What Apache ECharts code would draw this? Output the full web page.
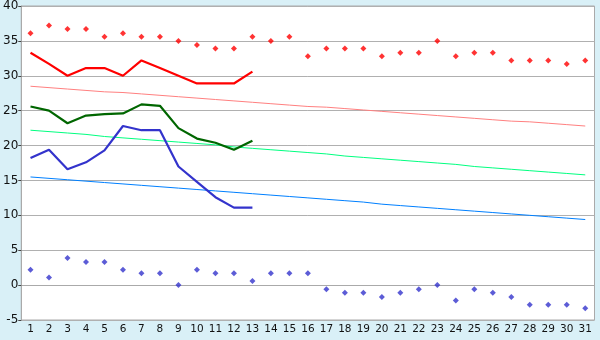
<!DOCTYPE html>
<html>
<head>
<meta charset="utf-8">
<script src="https://cdn.jsdelivr.net/npm/echarts@6/dist/echarts.min.js"></script>
<style>
html,body{margin:0;padding:0;background:#d9f0f7;}
#c{width:600px;height:340px;}
</style>
</head>
<body>
<div id="c"></div>
<script>
var days = ['1','2','3','4','5','6','7','8','9','10','11','12','13','14','15','16','17','18','19','20','21','22','23','24','25','26','27','28','29','30','31'];
var yTicks = {min: -5, max: 40, interval: 5};

var recordMax = [36.1,37.2,36.7,36.7,35.6,36.1,35.6,35.6,35.0,34.4,33.9,33.9,35.6,35.0,35.6,32.8,33.9,33.9,33.9,32.8,33.3,33.3,35.0,32.8,33.3,33.3,32.2,32.2,32.2,31.7,32.2];
var recordMin = [2.2,1.1,3.9,3.3,3.3,2.2,1.7,1.7,0.0,2.2,1.7,1.7,0.6,1.7,1.7,1.7,-0.6,-1.1,-1.1,-1.7,-1.1,-0.6,0.0,-2.2,-0.6,-1.1,-1.7,-2.8,-2.8,-2.8,-3.3];
var actualMax = [33.3,31.7,30.0,31.1,31.1,30.0,32.2,31.1,30.0,28.9,28.9,28.9,30.6];
var actualMean = [25.6,25.0,23.2,24.3,24.5,24.6,25.9,25.7,22.5,21.0,20.4,19.4,20.7];
var actualMin = [18.2,19.4,16.6,17.6,19.3,22.8,22.2,22.2,17.0,14.8,12.6,11.1,11.1];
var normalMax = [28.5,28.3,28.1,27.9,27.7,27.6,27.4,27.2,27.0,26.8,26.6,26.4,26.2,26.0,25.8,25.6,25.5,25.3,25.1,24.9,24.7,24.5,24.3,24.1,23.9,23.7,23.5,23.4,23.2,23.0,22.8];
var normalMean = [22.2,22.0,21.8,21.6,21.3,21.1,20.9,20.7,20.5,20.3,20.1,19.8,19.6,19.4,19.2,19.0,18.8,18.5,18.3,18.1,17.9,17.7,17.5,17.3,17.0,16.8,16.6,16.4,16.2,16.0,15.8];
var normalMin = [15.5,15.3,15.1,14.9,14.7,14.5,14.3,14.1,13.9,13.7,13.5,13.3,13.1,12.9,12.7,12.5,12.3,12.1,11.9,11.6,11.4,11.2,11.0,10.8,10.6,10.4,10.2,10.0,9.8,9.6,9.4];

function line(data, color, width) {
  return {type: 'line', data: data, symbol: 'none', silent: true, animation: false,
    lineStyle: {color: color, width: width}, itemStyle: {color: color}};
}
function dots(data, color) {
  return {type: 'scatter', data: data, symbol: 'diamond', symbolSize: 6, silent: true, animation: false,
    itemStyle: {color: color}};
}

var chart = echarts.init(document.getElementById('c'), null, {renderer: 'canvas'});
chart.setOption({
  backgroundColor: '#d9f0f7',
  animation: false,
  grid: {left: 20, right: 5.5, top: 5, bottom: 20, show: true, backgroundColor: '#ffffff', borderColor: '#aaaaaa', borderWidth: 1},
  xAxis: {
    type: 'category', data: days, boundaryGap: true,
    axisLine: {lineStyle: {color: '#aaaaaa'}},
    axisTick: {alignWithLabel: true, length: 5, lineStyle: {color: '#444444'}},
    axisLabel: {color: '#111111', fontFamily: 'DejaVu Sans', fontSize: 10.5, margin: 4, interval: 0}
  },
  yAxis: {
    type: 'value', min: yTicks.min, max: yTicks.max, interval: yTicks.interval,
    axisLine: {show: true, lineStyle: {color: '#aaaaaa'}},
    axisTick: {show: true, length: 3, lineStyle: {color: '#444444'}},
    axisLabel: {color: '#111111', fontFamily: 'DejaVu Sans', fontSize: 12, margin: 3},
    splitLine: {lineStyle: {color: '#b0b0b0'}}
  },
  series: [
    line(normalMax, '#ff8080', 1),
    line(normalMean, '#00ff80', 1),
    line(normalMin, '#0080ff', 1),
    line(actualMax, '#ff0000', 2.2),
    line(actualMean, '#006600', 2.2),
    line(actualMin, '#3333cc', 2.2),
    dots(recordMax, '#ff0000'),
    dots(recordMin, '#3333cc')
  ]
});
</script>
</body>
</html>
